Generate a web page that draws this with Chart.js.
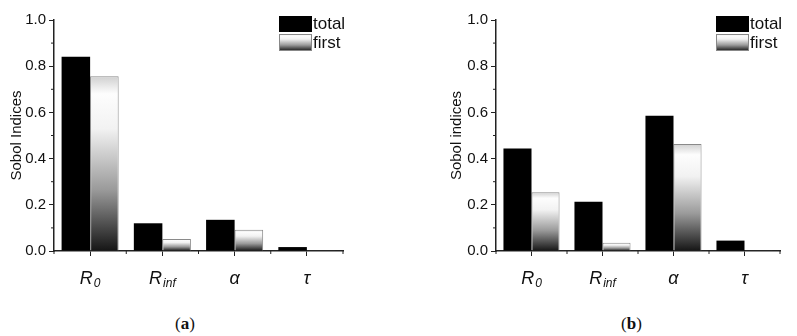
<!DOCTYPE html>
<html>
<head>
<meta charset="utf-8">
<script src="https://cdn.jsdelivr.net/npm/chart.js@4/dist/chart.umd.min.js"></script>
<style>
    body { margin: 0; background: #fff; }
    .panel { position: absolute; top: 0; width: 398px; height: 300px; }
    .caption { position: absolute; top: 314px; font-family: "Liberation Serif", "DejaVu Serif", serif; font-size: 17px; color: #111; }
</style>
</head>
<body>
<div class="panel" style="left:0"><canvas id="chart-a" width="398" height="300"></canvas></div>
<div class="panel" style="left:398px"><canvas id="chart-b" width="398" height="300"></canvas></div>
<div class="caption" style="left:175px">(<b>a</b>)</div>
<div class="caption" style="left:621px">(<b>b</b>)</div>
<script>
// categories: [main, subscript]
const categories = [['R', '0'], ['R', 'inf'], ['α', ''], ['τ', '']];
const seriesNames = ['total', 'first'];
const yTicks = [0, 0.2, 0.4, 0.6, 0.8, 1.0];

const totalA = [0.841, 0.120, 0.135, 0.017];
const firstA = [0.756, 0.052, 0.092, 0.001];
const totalB = [0.444, 0.213, 0.586, 0.045];
const firstB = [0.254, 0.036, 0.463, 0.001];

const AXIS = '#222';
const FONT = '"Liberation Sans", Arial, sans-serif';

function makeGradient(g, top, bottom) {
    const grad = g.createLinearGradient(0, top, 0, bottom);
    grad.addColorStop(0, '#d0d0d0');
    grad.addColorStop(0.1, '#fdfdfd');
    grad.addColorStop(0.3, '#f2f2f2');
    grad.addColorStop(0.65, '#9a9a9a');
    grad.addColorStop(1, '#151515');
    return grad;
}

function firstFill(ctx) {
    const chart = ctx.chart;
    if (!chart.chartArea || ctx.type !== 'data') return '#ccc';
    const y = chart.scales.y;
    const top = y.getPixelForValue(ctx.raw);
    const bottom = y.getPixelForValue(0);
    if (bottom - top < 2) return '#777';
    return makeGradient(chart.ctx, top, bottom);
}

// custom x labels with subscripts, minor ticks and legend
const decorPlugin = {
    id: 'decor',
    afterDraw(chart) {
        const g = chart.ctx;
        const x = chart.scales.x;
        const y = chart.scales.y;
        const area = chart.chartArea;
        g.save();

        // category labels
        g.fillStyle = '#111';
        g.textBaseline = 'alphabetic';
        categories.forEach((c, i) => {
            const cx = x.getPixelForTick(i);
            g.font = 'italic 18px ' + FONT;
            const w1 = g.measureText(c[0]).width;
            g.font = 'italic 12px ' + FONT;
            const w2 = c[1] ? g.measureText(c[1]).width + 1 : 0;
            const start = cx - (w1 + w2) / 2;
            g.textAlign = 'left';
            g.font = 'italic 18px ' + FONT;
            g.fillText(c[0], start, 284);
            if (c[1]) {
                g.font = 'italic 12px ' + FONT;
                g.fillText(c[1], start + w1 + 1, 287);
            }
        });

        // minor ticks
        g.strokeStyle = AXIS;
        g.lineWidth = 1;
        g.beginPath();
        for (let i = 0; i < categories.length + 1; i++) {
            const bx = x.left + (x.right - x.left) * i / categories.length;
            g.moveTo(bx, area.bottom);
            g.lineTo(bx, area.bottom + 3);
        }
        for (let i = 0; i < yTicks.length - 1; i++) {
            const v = (yTicks[i] + yTicks[i + 1]) / 2;
            const py = y.getPixelForValue(v);
            g.moveTo(area.left, py);
            g.lineTo(area.left - 3, py);
        }
        g.stroke();

        // legend
        const lx = area.right - 64;
        g.fillStyle = '#000';
        g.fillRect(lx, 16, 33, 16);
        g.fillStyle = makeGradient(g, 34, 51);
        g.fillRect(lx, 34, 33, 17);
        g.strokeStyle = '#888';
        g.strokeRect(lx + 0.5, 34.5, 32, 16);
        g.fillStyle = '#111';
        g.font = '17px ' + FONT;
        g.textAlign = 'left';
        g.textBaseline = 'middle';
        g.fillText(seriesNames[0], lx + 34, 24);
        g.fillText(seriesNames[1], lx + 34, 43);
        g.restore();
    }
};

function createChart(id, total, first, yWidth, rightPad, title, titlePad) {
    const ctx = document.getElementById(id).getContext('2d');
    return new Chart(ctx, {
        type: 'bar',
        data: {
            labels: categories.map(c => c[0] + c[1]),
            datasets: [
                {
                    label: seriesNames[0],
                    data: total,
                    backgroundColor: '#000',
                    borderWidth: 0,
                    barPercentage: 1.0,
                    categoryPercentage: 0.79
                },
                {
                    label: seriesNames[1],
                    data: first,
                    backgroundColor: firstFill,
                    borderColor: '#8a8a8a',
                    borderWidth: 1,
                    barPercentage: 1.0,
                    categoryPercentage: 0.79
                }
            ]
        },
        options: {
            responsive: false,
            animation: false,
            layout: { padding: { top: 20, right: rightPad, left: 0, bottom: 0 } },
            plugins: {
                legend: { display: false },
                tooltip: { enabled: false }
            },
            scales: {
                x: {
                    grid: { drawOnChartArea: false, offset: false, tickLength: 5, color: AXIS, lineWidth: 1 },
                    border: { color: AXIS, width: 1.5 },
                    ticks: { callback: () => '' },
                    afterFit: s => { s.height = 49; }
                },
                y: {
                    min: 0,
                    max: 1,
                    grid: { drawOnChartArea: false, tickLength: 5, color: AXIS, lineWidth: 1 },
                    border: { color: AXIS, width: 1.5 },
                    ticks: {
                        stepSize: 0.2,
                        padding: 3,
                        color: '#111',
                        font: { family: FONT, size: 15 },
                        callback: v => v.toFixed(1)
                    },
                    title: {
                        display: true,
                        text: title,
                        color: '#111',
                        font: { family: FONT, size: 15 },
                        padding: { top: titlePad, bottom: 0 }
                    },
                    afterFit: s => { s.width = yWidth; }
                }
            }
        },
        plugins: [decorPlugin]
    });
}

createChart('chart-a', totalA, firstA, 54, 55, 'Sobol Indices', 8);
createChart('chart-b', totalB, firstB, 98, 16, 'Sobol indices', 50);
</script>
</body>
</html>
